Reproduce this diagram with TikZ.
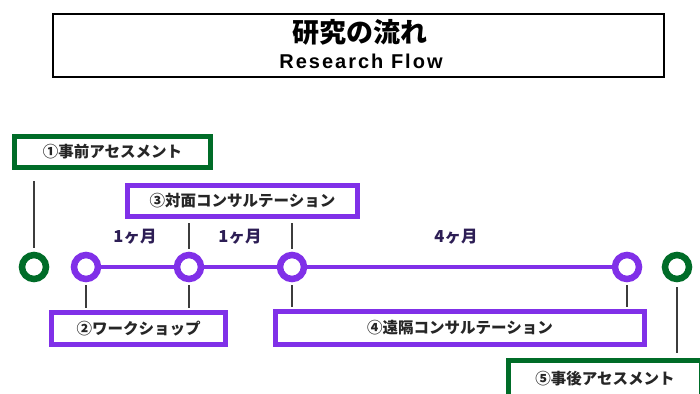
\documentclass[tikz,border=0pt]{standalone}
\usepackage{fontspec}
\usetikzlibrary{backgrounds}
\setmainfont{Noto Sans CJK JP}
\newfontfamily\latinb{Liberation Sans}
\definecolor{vio}{RGB}{128,48,232}
\definecolor{grn}{RGB}{0,108,40}
\definecolor{stem}{RGB}{60,60,60}
\definecolor{lbl}{RGB}{45,30,85}
\tikzset{
  vbox/.style={draw=vio, line width=5pt, fill=white, inner sep=0pt, font=\bfseries\fontsize{15.5}{15.5}\selectfont, text=black!85},
  gbox/.style={draw=grn, line width=5pt, fill=white, inner sep=0pt, font=\bfseries\fontsize{15.5}{15.5}\selectfont, text=black!85},
  vring/.style={circle, draw=vio, line width=6.5pt, fill=white, minimum size=24pt, inner sep=0pt},
  gring/.style={circle, draw=grn, line width=6.5pt, fill=white, minimum size=24pt, inner sep=0pt},
  stemline/.style={draw=stem, line width=2pt},
  dur/.style={font=\bfseries\fontsize{16.5}{16.5}\selectfont, text=lbl},
}
\begin{document}
\begin{tikzpicture}[x=1pt,y=-1pt]
\useasboundingbox (0,0) rectangle (700,393);
% title
\node[draw=black, line width=1.3pt, minimum width=611pt, minimum height=63pt, inner sep=0pt] (title) at (358.5,45.5) {};
\node[font=\bfseries\fontsize{27}{27}\selectfont] (tjp) at (360,32) {研究の流れ};
\node[font=\latinb\bfseries\fontsize{20}{20}\selectfont\addfontfeatures{LetterSpace=10}] (ten) at (361,61) {Research Flow};
% boxes
\node[gbox, minimum width=196pt, minimum height=31pt] (b1) at (112.5,152) {①事前アセスメント};
\node[vbox, minimum width=230pt, minimum height=31pt] (b3) at (242.5,201) {③対面コンサルテーション};
\node[vbox, minimum width=174pt, minimum height=32pt] (b2) at (138.5,328.5) {②ワークショップ};
\node[vbox, minimum width=369pt, minimum height=33pt] (b4) at (460,328) {④遠隔コンサルテーション};
\node[gbox, minimum width=193pt, minimum height=42pt] (b5) at (605,381) {\raisebox{7pt}{⑤事後アセスメント}};
% timeline circles
\node[gring] (g1) at (34,267) {};
\node[vring] (p1) at (86,267) {};
\node[vring] (p2) at (189,267) {};
\node[vring] (p3) at (292,267) {};
\node[vring] (p4) at (627,267) {};
\node[gring] (g2) at (677,267) {};
% main line
\begin{scope}[on background layer]
\draw[vio, line width=4pt] (p1.center) -- (p2.center) -- (p3.center) -- (p4.center);
\end{scope}
% stems
\draw[stemline, shorten <=4pt, shorten >=11pt] (g1.north) -- (g1.north |- b1.south);
\draw[stemline, shorten <=3pt, shorten >=4pt] (p2.north) -- (p2.north |- b3.south);
\draw[stemline, shorten <=3pt, shorten >=4pt] (p3.north) -- (p3.north |- b3.south);
\draw[stemline, shorten <=3pt, shorten >=2pt] (p1.south) -- (p1.south |- b2.north);
\draw[stemline, shorten <=3pt, shorten >=2pt] (p2.south) -- (p2.south |- b2.north);
\draw[stemline, shorten <=3pt, shorten >=2pt] (p3.south) -- (p3.south |- b4.north);
\draw[stemline, shorten <=3pt, shorten >=2pt] (p4.south) -- (p4.south |- b4.north);
\draw[stemline, shorten <=5pt, shorten >=5pt] (g2.south) -- (g2.south |- b5.north);
% durations
\node[dur] (d1) at (135,237) {1ヶ月};
\node[dur] (d2) at (240,237) {1ヶ月};
\node[dur] (d3) at (456,237) {4ヶ月};
\end{tikzpicture}
\end{document}
